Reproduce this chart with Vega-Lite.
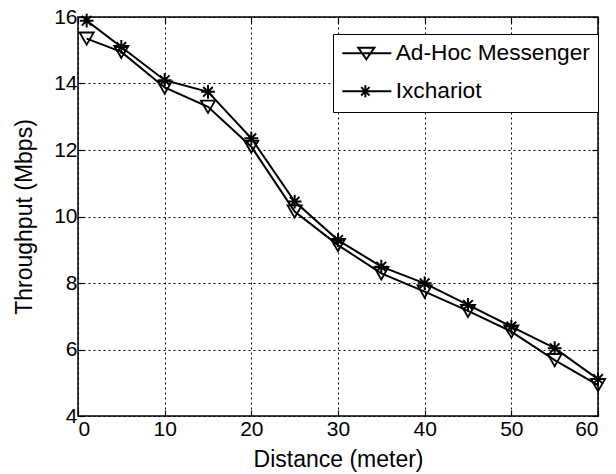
{
  "$schema": "https://vega.github.io/schema/vega-lite/v6.json",
  "width": 520,
  "height": 399,
  "autosize": {"type": "none"},
  "padding": {"left": 78, "top": 17, "right": 18, "bottom": 58},
  "background": "white",
  "config": {
    "font": "Liberation Sans",
    "view": {"stroke": "black", "strokeWidth": 1.5},
    "axis": {
      "domain": false,
      "labelFont": "Liberation Sans",
      "labelFontSize": 21,
      "labelColor": "black",
      "titleFont": "Liberation Sans",
      "titleFontSize": 23,
      "titleFontWeight": "normal",
      "titleColor": "black",
      "ticks": false,
      "tickColor": "black",
      "tickWidth": 1.2,
      "grid": false,
      "gridColor": "#000000",
      "gridOpacity": 1,
      "gridWidth": 1,
      "gridDash": [2, 3]
    }
  },
  "data": {
    "values": [
      {"distance": 1, "throughput": 15.35, "series": "Ad-Hoc Messenger"},
      {"distance": 5, "throughput": 14.95, "series": "Ad-Hoc Messenger"},
      {"distance": 10, "throughput": 13.88, "series": "Ad-Hoc Messenger"},
      {"distance": 15, "throughput": 13.3, "series": "Ad-Hoc Messenger"},
      {"distance": 20, "throughput": 12.1, "series": "Ad-Hoc Messenger"},
      {"distance": 25, "throughput": 10.15, "series": "Ad-Hoc Messenger"},
      {"distance": 30, "throughput": 9.14, "series": "Ad-Hoc Messenger"},
      {"distance": 35, "throughput": 8.29, "series": "Ad-Hoc Messenger"},
      {"distance": 40, "throughput": 7.74, "series": "Ad-Hoc Messenger"},
      {"distance": 45, "throughput": 7.16, "series": "Ad-Hoc Messenger"},
      {"distance": 50, "throughput": 6.54, "series": "Ad-Hoc Messenger"},
      {"distance": 55, "throughput": 5.68, "series": "Ad-Hoc Messenger"},
      {"distance": 60, "throughput": 4.93, "series": "Ad-Hoc Messenger"},
      {"distance": 1, "throughput": 15.89, "series": "Ixchariot"},
      {"distance": 5, "throughput": 15.1, "series": "Ixchariot"},
      {"distance": 10, "throughput": 14.1, "series": "Ixchariot"},
      {"distance": 15, "throughput": 13.75, "series": "Ixchariot"},
      {"distance": 20, "throughput": 12.35, "series": "Ixchariot"},
      {"distance": 25, "throughput": 10.45, "series": "Ixchariot"},
      {"distance": 30, "throughput": 9.29, "series": "Ixchariot"},
      {"distance": 35, "throughput": 8.49, "series": "Ixchariot"},
      {"distance": 40, "throughput": 7.99, "series": "Ixchariot"},
      {"distance": 45, "throughput": 7.34, "series": "Ixchariot"},
      {"distance": 50, "throughput": 6.69, "series": "Ixchariot"},
      {"distance": 55, "throughput": 6.04, "series": "Ixchariot"},
      {"distance": 60, "throughput": 5.11, "series": "Ixchariot"}
    ]
  },
  "layer": [
    {
      "mark": {"type": "line", "color": "black", "strokeWidth": 2},
      "encoding": {
        "x": {
          "field": "distance",
          "type": "quantitative",
          "scale": {"domain": [0, 60], "nice": false},
          "axis": {"orient": "bottom", "values": [0, 10, 20, 30, 40, 50, 60], "grid": true, "title": "Distance (meter)", "labelPadding": 2, "titlePadding": 9}
        },
        "y": {
          "field": "throughput",
          "type": "quantitative",
          "scale": {"domain": [4, 16], "nice": false, "zero": false},
          "axis": {"orient": "left", "values": [4, 6, 8, 10, 12, 14, 16], "grid": true, "title": "Throughput (Mbps)", "labelPadding": 1, "titlePadding": 17}
        },
        "detail": {"field": "series", "type": "nominal"}
      }
    },
    {
      "transform": [{"filter": "datum.series === 'Ad-Hoc Messenger'"}],
      "mark": {"type": "point", "filled": false, "color": "black", "strokeWidth": 1.8, "size": 200, "opacity": 1, "shape": "triangle-down"},
      "encoding": {
        "x": {
          "field": "distance",
          "type": "quantitative",
          "axis": {"orient": "top", "values": [0, 10, 20, 30, 40, 50, 60], "labels": false, "ticks": true, "tickSize": 6, "offset": -6, "grid": false, "title": null}
        },
        "y": {
          "field": "throughput",
          "type": "quantitative",
          "axis": {"orient": "right", "values": [4, 6, 8, 10, 12, 14, 16], "labels": false, "ticks": true, "tickSize": 6, "offset": -6, "grid": false, "title": null}
        }
      }
    },
    {
      "transform": [{"filter": "datum.series === 'Ixchariot'"}],
      "mark": {"type": "point", "filled": false, "color": "black", "strokeWidth": 2, "size": 190, "opacity": 1, "shape": "M-1,0L1,0M0,-1L0,1M-0.7,-0.7L0.7,0.7M-0.7,0.7L0.7,-0.7"},
      "encoding": {
        "x": {
          "field": "distance",
          "type": "quantitative",
          "axis": {"orient": "bottom", "values": [0, 10, 20, 30, 40, 50, 60], "labels": false, "ticks": true, "tickSize": 6, "offset": -6, "grid": false, "title": null}
        },
        "y": {
          "field": "throughput",
          "type": "quantitative",
          "axis": {"orient": "left", "values": [4, 6, 8, 10, 12, 14, 16], "labels": false, "ticks": true, "tickSize": 6, "offset": -6, "grid": false, "title": null}
        }
      }
    },
    {
      "mark": {"type": "point", "filled": false, "color": "black", "opacity": 0},
      "encoding": {
        "x": {"field": "distance", "type": "quantitative", "axis": null},
        "y": {"field": "throughput", "type": "quantitative", "axis": null},
        "shape": {
          "field": "series",
          "type": "nominal",
          "scale": {
            "domain": ["Ad-Hoc Messenger", "Ixchariot"],
            "range": [
              "M-1,0L3.9,0M0.6,-0.55L2.2,-0.55L1.4,0.6Z",
              "M-1,0L3.9,0M0.8,0L1.8,0M1.3,-0.6L1.3,0.6M0.88,-0.42L1.72,0.42M0.88,0.42L1.72,-0.42"
            ]
          },
          "legend": {
            "title": null,
            "orient": "none",
            "legendX": 255,
            "legendY": 17,
            "direction": "vertical",
            "strokeColor": "black",
            "fillColor": "white",
            "padding": 8,
            "labelFont": "Liberation Sans",
            "labelFontSize": 22.7,
            "labelColor": "black",
            "labelLimit": 400,
            "labelOffset": 32,
            "rowPadding": 14,
            "symbolSize": 400,
            "symbolOpacity": 1,
            "symbolStrokeColor": "black",
            "symbolStrokeWidth": 2,
            "symbolFillColor": "transparent"
          }
        }
      }
    }
  ]
}
